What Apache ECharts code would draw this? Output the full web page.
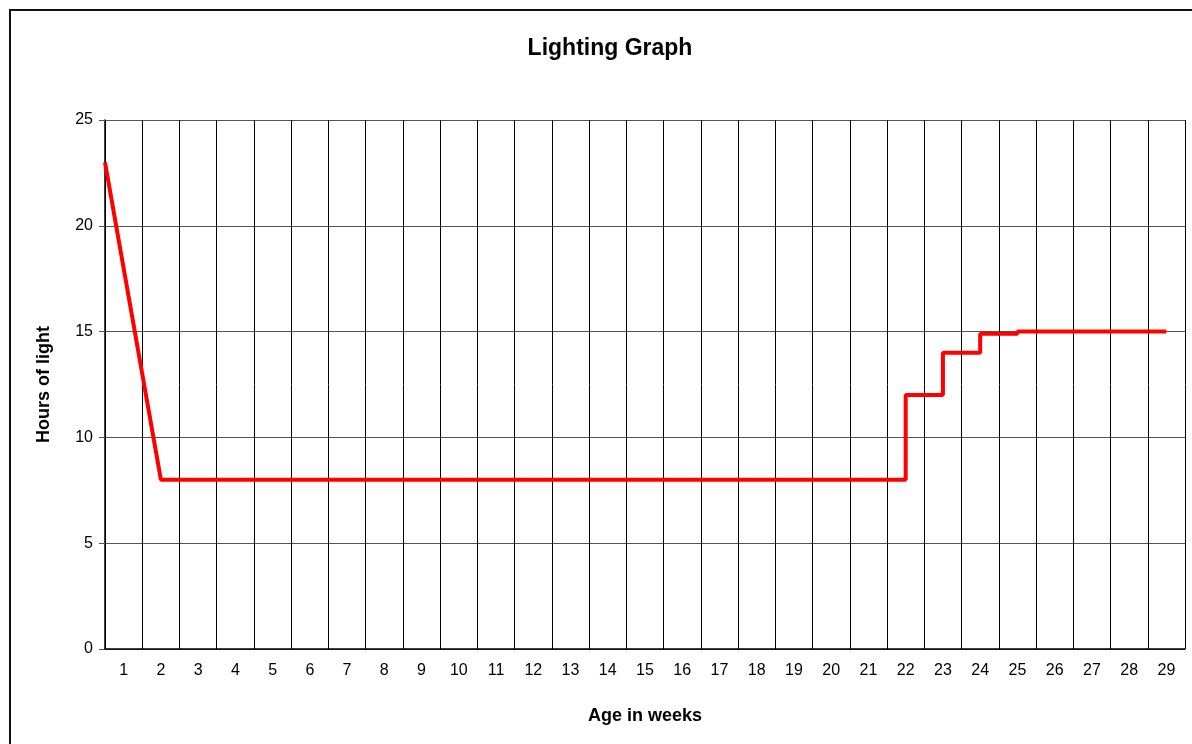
<!DOCTYPE html>
<html>
<head>
<meta charset="utf-8">
<title>Lighting Graph</title>
<script src="https://cdn.jsdelivr.net/npm/echarts@6/dist/echarts.min.js"></script>
<style>
  html, body { margin: 0; padding: 0; background: #fff; }
  #main { width: 1192px; height: 744px; }
</style>
</head>
<body>
<div id="main"></div>
<script>
// week labels on the x axis
const weeks = ['1', '2', '3', '4', '5', '6', '7', '8', '9', '10', '11', '12', '13', '14', '15',
  '16', '17', '18', '19', '20', '21', '22', '23', '24', '25', '26', '27', '28', '29']
// light schedule: age (weeks) and hours of light
const ageX = [0.5, 2, 22, 22, 23, 23, 24, 24, 25, 25, 29]
const hoursY = [23, 8, 8, 12, 12, 14, 14, 14.9, 14.9, 15, 15]
const yTicks = [0, 5, 10, 15, 20, 25]

const font = '"Liberation Sans", Arial, sans-serif'
let myChart = echarts.init(document.getElementById('main'))

myChart.setOption({
  backgroundColor: '#fff',
  animation: false,
  title: {
    text: 'Lighting Graph',
    left: 605,
    top: 32,
    textAlign: 'center',
    textStyle: { fontFamily: font, fontSize: 23, fontWeight: 'bold', color: '#000' }
  },
  // outer chart border
  graphic: [{
    type: 'rect',
    shape: { x: 10, y: 10, width: 1200, height: 800 },
    style: { fill: 'none', stroke: '#111', lineWidth: 2 },
    silent: true
  }],
  grid: { left: 105, right: 7, top: 120, bottom: 95 },
  xAxis: [
    {
      type: 'category',
      data: weeks,
      boundaryGap: true,
      name: 'Age in weeks',
      nameLocation: 'middle',
      nameGap: 58,
      nameTextStyle: { fontFamily: font, fontSize: 18, fontWeight: 'bold', color: '#000' },
      axisLine: { lineStyle: { color: '#000', width: 1.5 } },
      axisTick: { show: false },
      axisLabel: { interval: 0, fontFamily: font, fontSize: 16, color: '#000', margin: 14 },
      splitLine: { show: true, interval: 0, lineStyle: { color: '#000', width: 1 } }
    },
    {
      // hidden numeric axis so the line can sit between category centres
      type: 'value',
      min: 0.5,
      max: 29.5,
      show: false
    }
  ],
  yAxis: {
    type: 'value',
    min: yTicks[0],
    max: yTicks[yTicks.length - 1],
    interval: 5,
    name: 'Hours of light',
    nameLocation: 'middle',
    nameGap: 52,
    nameTextStyle: { fontFamily: font, fontSize: 18, fontWeight: 'bold', color: '#000' },
    axisLine: { show: true, lineStyle: { color: '#000', width: 1.5 } },
    axisTick: { show: true, length: 6, lineStyle: { color: '#555' } },
    axisLabel: { fontFamily: font, fontSize: 16, color: '#000', margin: 12 },
    splitLine: { show: true, lineStyle: { color: '#555', width: 1 } }
  },
  series: [{
    type: 'line',
    xAxisIndex: 1,
    data: ageX.map((x, i) => [x, hoursY[i]]),
    symbol: 'none',
    lineStyle: { color: '#ff0000', width: 4 },
    z: 5
  }]
})
</script>
</body>
</html>
